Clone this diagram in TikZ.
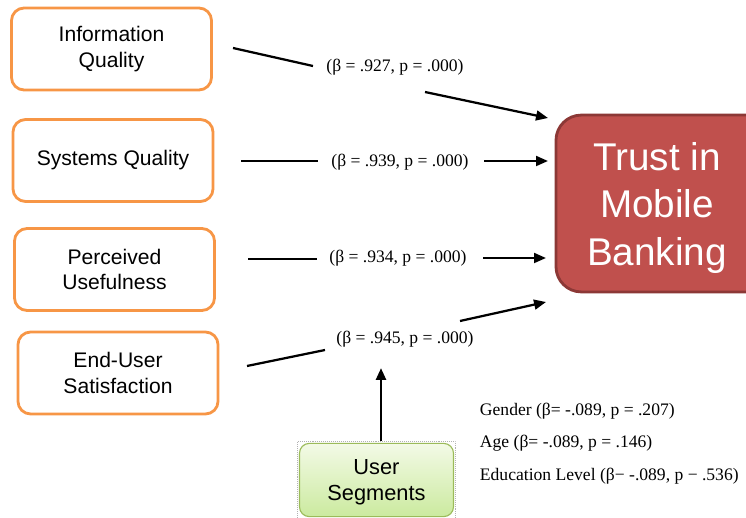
\documentclass[tikz,border=0pt]{standalone}
\usepackage{fontspec}
\setmainfont{Liberation Serif}
\setsansfont{Liberation Sans}
\usetikzlibrary{arrows.meta,positioning,fit}
\definecolor{boxorange}{HTML}{F79646}
\definecolor{trustred}{HTML}{C0504D}
\definecolor{trustedge}{HTML}{8C3836}
\definecolor{segtop}{HTML}{F3FAE6}
\definecolor{segbot}{HTML}{CBEA9F}
\definecolor{segedge}{HTML}{9BBB59}

\begin{document}
\begin{tikzpicture}[x=0.025cm,y=-0.025cm,
  factor/.style={draw=boxorange,line width=2pt,rounded corners=9pt,fill=white,
    minimum width=5cm,minimum height=2.05cm,align=center,
    font=\sffamily\fontsize{15}{18}\selectfont},
  beta/.style={font=\fontsize{12.5}{15}\selectfont},
  link/.style={line width=1.6pt},
  linkarrow/.style={link,-{Triangle[length=8.5pt,width=7pt]}}]
\useasboundingbox (0,0) rectangle (746,518);
%draw the four factors
\node[factor] (iq) at (111.5,49) {Information\\Quality};
\node[factor] (sq) at (113,160.5) {Systems Quality};
\node[factor] (pu) at (114.5,269.5) {Perceived\\Usefulness};
\node[factor] (eu) at (118,373) {End-User\\Satisfaction};
%draw the outcome
\node[draw=trustedge,line width=2pt,fill=trustred,rounded corners=18pt,
  minimum width=5.6cm,minimum height=4.42cm] (trust) at (668,203.5) {};
\node[align=center,text=white,font=\sffamily\fontsize{27.5}{34}\selectfont]
  (trusttext) at (657,208) {Trust in\\Mobile\\Banking};
%draw user segments
\node[draw=segedge,line width=0.8pt,rounded corners=7pt,top color=segtop,
  bottom color=segbot,minimum width=3.85cm,minimum height=1.83cm,align=center,
  font=\sffamily\fontsize{15.5}{18.5}\selectfont,text depth=0pt] (us) at (376.5,480)
  {User\\Segments};
\node[fit=(us),draw=gray!60,densely dotted,line width=0.4pt,inner sep=1.2pt] (usframe) {};
% coefficients
\node[beta] (b1) at (395,67) {(β = .927, p = .000)};
\node[beta] (b2) at (400,162) {(β = .939, p = .000)};
\node[beta] (b3) at (398,258) {(β = .934, p = .000)};
\node[beta] (b4) at (405,339) {(β = .945, p = .000)};
% segment coefficients
\node[beta,anchor=west] (gender) at (475,411) {Gender (β= -.089, p = .207)};
\node[beta,anchor=west] (age) at (475,443) {Age (β= -.089, p = .146)};
\node[beta,anchor=west] (edu) at (475,476) {Education Level (β− -.089, p − .536)};
% end points of the links
\coordinate (s1) at (233,48);
\coordinate (e1) at (313,66);
\coordinate (s1b) at (425,92);
\coordinate (t1) at (548,118);
\coordinate (s2) at (241,161);
\coordinate (e2) at (318,161);
\coordinate (s2b) at (484,161);
\coordinate (t2) at (548,161);
\coordinate (s3) at (248,259);
\coordinate (e3) at (317,259);
\coordinate (s3b) at (483,258);
\coordinate (t3) at (546,258);
\coordinate (s4) at (247,366);
\coordinate (e4) at (325,350);
\coordinate (s4b) at (460,321);
\coordinate (t4) at (546,302);
\coordinate (st) at (381,368);
%draw links
\draw[link] (s1) -- (e1);
\draw[linkarrow] (s1b) -- (t1);
\draw[link] (s2) -- (e2);
\draw[linkarrow] (s2b) -- (t2);
\draw[link] (s3) -- (e3);
\draw[linkarrow] (s3b) -- (t3);
\draw[link] (s4) -- (e4);
\draw[linkarrow] (s4b) -- (t4);
\draw[linkarrow,line width=2pt] (st |- usframe.north) -- (st);
\end{tikzpicture}
\end{document}
